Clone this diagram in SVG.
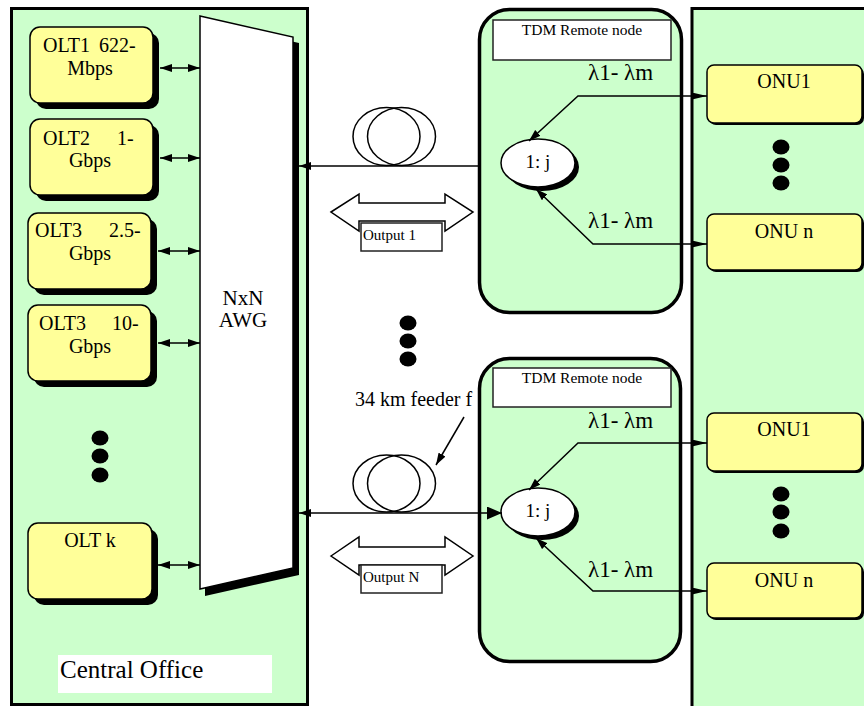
<svg xmlns="http://www.w3.org/2000/svg" width="864" height="706" viewBox="0 0 864 706" font-family="'Liberation Serif', Tinos, 'DejaVu Serif', serif">
<defs>
<style>
text{font-family:"Liberation Serif",Tinos,"DejaVu Serif",serif}
.panel{fill:#CCFFCC;stroke:#000;stroke-width:3}
.olt{fill:#FFFF99;stroke:#000;stroke-width:1.5}
.shd{fill:#000}
.t{fill:#000}
.ln{fill:none;stroke:#000;stroke-width:1.5}
.lbl{fill:#fff;stroke:#222;stroke-width:1.5}
.dot{fill:#000}
</style>
<marker id="ah" viewBox="0 0 12 8" refX="12" refY="4" markerWidth="12" markerHeight="8" markerUnits="userSpaceOnUse" orient="auto-start-reverse"><path d="M0,0 L12,4 L0,8 z" fill="#000"/></marker>
<marker id="ahb" viewBox="0 0 15 13" refX="15" refY="6.5" markerWidth="15" markerHeight="13" markerUnits="userSpaceOnUse" orient="auto-start-reverse"><path d="M0,0 L15,6.5 L0,13 z" fill="#000"/></marker>
<marker id="ahs" viewBox="0 0 15 7" refX="15" refY="3.5" markerWidth="15" markerHeight="7" markerUnits="userSpaceOnUse" orient="auto-start-reverse"><path d="M0,0 L15,3.5 L0,7 z" fill="#000"/></marker>
</defs>

<!-- Central office panel -->
<g id="central-office">
<rect class="panel" x="11.5" y="8.5" width="296" height="696"/>
<rect x="58" y="655" width="214" height="38" fill="#fff"/>
<text class="t" x="60" y="678" font-size="25">Central Office</text>
<ellipse class="dot" cx="100" cy="438" rx="8.5" ry="7.5"/>
<ellipse class="dot" cx="100" cy="456" rx="8.5" ry="7.5"/>
<ellipse class="dot" cx="100" cy="475" rx="8.5" ry="7.5"/>
</g>

<!-- ONU panel -->
<g id="onu-panel">
<rect class="panel" x="692" y="8.5" width="180" height="705"/>
<ellipse class="dot" cx="781" cy="147" rx="8.5" ry="7.5"/>
<ellipse class="dot" cx="781" cy="165" rx="8.5" ry="7.5"/>
<ellipse class="dot" cx="781" cy="183" rx="8.5" ry="7.5"/>
<ellipse class="dot" cx="781" cy="494" rx="8.5" ry="7.5"/>
<ellipse class="dot" cx="781" cy="512" rx="8.5" ry="7.5"/>
<ellipse class="dot" cx="781" cy="531" rx="8.5" ry="7.5"/>
</g>

<!-- AWG -->
<g id="awg">
<polygon class="shd" points="205,22 299,43 299,575 205,596"/>
<polygon points="200,16 293,37 293,568 200,589" fill="#fff" stroke="#000" stroke-width="1.5"/>
<text class="t" x="243" y="305" font-size="21" text-anchor="middle">NxN</text>
<text class="t" x="243" y="327" font-size="21" text-anchor="middle">AWG</text>
</g>

<!-- OLTs -->
<g id="olt1">
<rect class="shd" x="36" y="33" width="123" height="76" rx="10"/>
<rect class="olt" x="30" y="27" width="123" height="76" rx="10"/>
<text class="t" x="43" y="52" font-size="20" word-spacing="4">OLT1 622-</text>
<text class="t" x="90" y="75" font-size="20" text-anchor="middle">Mbps</text>
</g>
<g id="olt2">
<rect class="shd" x="36" y="125" width="123" height="76" rx="10"/>
<rect class="olt" x="30" y="119" width="123" height="76" rx="10"/>
<text class="t" x="43" y="145" font-size="20" word-spacing="22">OLT2 1-</text>
<text class="t" x="90" y="167" font-size="20" text-anchor="middle">Gbps</text>
</g>
<g id="olt3a">
<rect class="shd" x="34" y="219" width="123" height="76" rx="10"/>
<rect class="olt" x="28" y="213" width="123" height="76" rx="10"/>
<text class="t" x="35" y="237" font-size="20" word-spacing="22">OLT3 2.5-</text>
<text class="t" x="90" y="260" font-size="20" text-anchor="middle">Gbps</text>
</g>
<g id="olt3b">
<rect class="shd" x="34" y="311" width="123" height="76" rx="10"/>
<rect class="olt" x="28" y="305" width="123" height="76" rx="10"/>
<text class="t" x="39" y="330" font-size="20" word-spacing="21">OLT3 10-</text>
<text class="t" x="90" y="353" font-size="20" text-anchor="middle">Gbps</text>
</g>
<g id="oltk">
<rect class="shd" x="34" y="529" width="124" height="76" rx="10"/>
<rect class="olt" x="28" y="523" width="124" height="76" rx="10"/>
<text class="t" x="90" y="547" font-size="20" text-anchor="middle">OLT k</text>
</g>

<!-- middle decorations -->
<g id="feeder-1">
<ellipse class="ln" cx="386.5" cy="136.5" rx="33.5" ry="29"/>
<ellipse class="ln" cx="401.5" cy="136.5" rx="34" ry="29"/>
<polygon points="331,212 359,194 359,203 445,203 445,194 473,212 445,231 445,221 359,221 359,231" fill="#fff" stroke="#000" stroke-width="1.5"/>
<rect class="lbl" x="361" y="223" width="81" height="28"/>
<text class="t" x="363" y="240" font-size="15">Output 1</text>
</g>
<g id="feeder-n">
<text class="t" x="355" y="406" font-size="20">34 km feeder f</text>
<ellipse class="ln" cx="386.5" cy="483.5" rx="33.5" ry="28.5"/>
<ellipse class="ln" cx="401.5" cy="483.5" rx="34" ry="28.5"/>
<polygon points="331,556 359,537 359,547 445,547 445,537 473,556 445,575 445,565 359,565 359,575" fill="#fff" stroke="#000" stroke-width="1.5"/>
<rect class="lbl" x="361" y="565" width="81" height="28"/>
<text class="t" x="363" y="582" font-size="15">Output N</text>
</g>
<g id="middle-dots">
<ellipse class="dot" cx="408" cy="323" rx="8.5" ry="7.5"/>
<ellipse class="dot" cx="408" cy="341" rx="8.5" ry="7.5"/>
<ellipse class="dot" cx="408" cy="359" rx="8.5" ry="7.5"/>
</g>

<!-- Remote nodes -->
<g id="remote-node-1">
<rect x="479.5" y="9.5" width="202" height="303" rx="30" fill="#CCFFCC" stroke="#000" stroke-width="3.5"/>
<rect class="lbl" x="493" y="20" width="178" height="40"/>
<text class="t" x="582" y="35" font-size="15.5" text-anchor="middle">TDM Remote node</text>
<text class="t" x="588" y="80" font-size="23">λ1- λm</text>
<text class="t" x="588" y="228" font-size="23">λ1- λm</text>
<ellipse class="shd" cx="542" cy="167" rx="37" ry="24"/>
<ellipse cx="538" cy="163" rx="37" ry="24" fill="#fff" stroke="#000" stroke-width="1.5"/>
<text class="t" x="538" y="168" font-size="19" text-anchor="middle">1: j</text>
</g>
<g id="remote-node-2">
<rect x="479.5" y="358.5" width="201" height="303" rx="30" fill="#CCFFCC" stroke="#000" stroke-width="3.5"/>
<rect class="lbl" x="493" y="368" width="178" height="39"/>
<text class="t" x="582" y="383" font-size="15.5" text-anchor="middle">TDM Remote node</text>
<text class="t" x="588" y="428" font-size="23">λ1- λm</text>
<text class="t" x="588" y="577" font-size="23">λ1- λm</text>
<ellipse class="shd" cx="542" cy="516" rx="37" ry="24"/>
<ellipse cx="538" cy="512" rx="37" ry="24" fill="#fff" stroke="#000" stroke-width="1.5"/>
<text class="t" x="538" y="517" font-size="19" text-anchor="middle">1: j</text>
</g>

<!-- ONUs -->
<g id="onu1-a">
<rect class="shd" x="709" y="67" width="155" height="58" rx="7"/>
<rect class="olt" x="707" y="65" width="155" height="58" rx="7"/>
<text class="t" x="784" y="88" font-size="20" text-anchor="middle">ONU1</text>
</g>
<g id="onun-a">
<rect class="shd" x="709" y="216" width="155" height="56" rx="7"/>
<rect class="olt" x="707" y="214" width="155" height="56" rx="7"/>
<text class="t" x="784" y="238" font-size="20" text-anchor="middle">ONU n</text>
</g>
<g id="onu1-b">
<rect class="shd" x="709" y="415" width="155" height="58" rx="7"/>
<rect class="olt" x="707" y="413" width="155" height="58" rx="7"/>
<text class="t" x="784" y="436" font-size="20" text-anchor="middle">ONU1</text>
</g>
<g id="onun-b">
<rect class="shd" x="709" y="565" width="155" height="55" rx="7"/>
<rect class="olt" x="707" y="563" width="155" height="55" rx="7"/>
<text class="t" x="784" y="587" font-size="20" text-anchor="middle">ONU n</text>
</g>

<!-- Connectors -->
<g id="connectors" class="ln">
<line x1="160" y1="68" x2="200" y2="68" marker-start="url(#ah)" marker-end="url(#ah)"/>
<line x1="160" y1="158" x2="200" y2="158" marker-start="url(#ah)" marker-end="url(#ah)"/>
<line x1="158" y1="251" x2="200" y2="251" marker-start="url(#ah)" marker-end="url(#ah)"/>
<line x1="158" y1="343" x2="200" y2="343" marker-start="url(#ah)" marker-end="url(#ah)"/>
<line x1="158" y1="565" x2="200" y2="565" marker-start="url(#ah)" marker-end="url(#ah)"/>
<line x1="299" y1="166" x2="478" y2="166" marker-start="url(#ah)"/>
<line x1="299" y1="513" x2="502" y2="513" marker-start="url(#ah)" marker-end="url(#ahb)"/>
<line x1="464" y1="417" x2="436" y2="465" marker-end="url(#ah)"/>
<polyline points="529,141 578,96 707,96" marker-start="url(#ah)" marker-end="url(#ahs)"/>
<polyline points="536,189 593,244 707,244" marker-start="url(#ah)" marker-end="url(#ahs)"/>
<polyline points="529,490 578,443 707,443" marker-start="url(#ah)" marker-end="url(#ahs)"/>
<polyline points="536,538 593,591 707,591" marker-start="url(#ah)" marker-end="url(#ahs)"/>
</g>
</svg>
